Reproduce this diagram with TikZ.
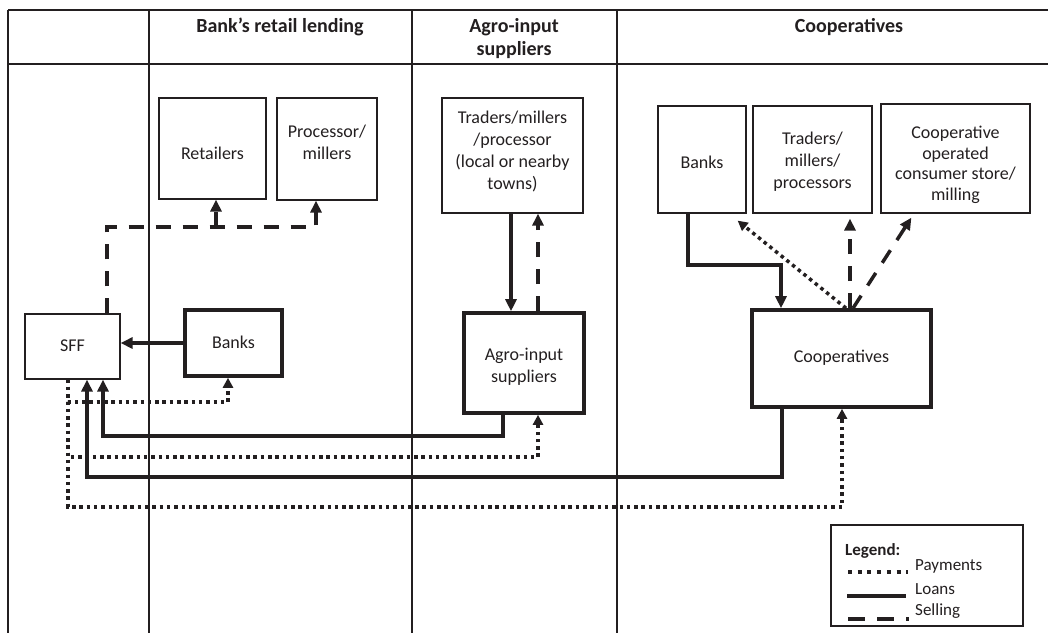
\documentclass[tikz,border=0pt]{standalone}
\usepackage{fontspec}
\setmainfont{Carlito}
\usetikzlibrary{arrows.meta}
\definecolor{ink}{HTML}{231F20}
\begin{document}
\begin{tikzpicture}[x=1pt,y=-1pt,
  grid/.style={draw=ink, line width=1.3pt},
  head/.style={font=\fontsize{20}{23}\selectfont\bfseries, text=ink, align=center, inner sep=0pt},
  txt/.style={font=\fontsize{18}{22}\selectfont, text=ink, align=center, inner sep=0pt},
  thinbox/.style={draw=ink, line width=1.2pt, inner sep=0pt},
  thickbox/.style={draw=ink, line width=3.6pt, inner sep=0pt},
  loan/.style={draw=ink, line width=3.5pt},
  pay/.style={draw=ink, line width=3.5pt, dash pattern=on 3.5pt off 3.8pt},
  sell/.style={draw=ink, line width=3.5pt, dash pattern=on 15pt off 12pt},
  tip/.style={-{Triangle[length=12pt,width=11pt]}},
  smalltip/.style={-{Triangle[length=10pt,width=10pt]}}]

\useasboundingbox (0,0) rectangle (1048,633);

% table grid
\draw[grid] (8,10) -- (1048,10);
\draw[grid] (8,64) -- (1048,64);
\draw[grid] (8,10) -- (8,633);
\draw[grid] (149,10) -- (149,633);
\draw[grid] (412,10) -- (412,633);
\draw[grid] (617,10) -- (617,633);

% column headings
\node[head] (hBank) at (280,27) {Bank’s retail lending};
\node[head] (hAgro) at (514,38.5) {Agro-input\\suppliers};
\node[head] (hCoop) at (849,27) {Cooperatives};

% boxes
\node[thinbox, minimum width=107pt, minimum height=101pt] (Retail) at (212.5,148.5) {};
\node[thinbox, minimum width=100pt, minimum height=102pt] (Proc) at (327,149) {};
\node[thinbox, minimum width=95pt, minimum height=65pt] (SFF) at (72.5,346.5) {};
\node[thickbox, minimum width=97pt, minimum height=66pt] (BanksL) at (233.5,343) {};
\node[thinbox, minimum width=141pt, minimum height=115pt] (TradersA) at (512.5,155.5) {};
\node[thickbox, minimum width=120pt, minimum height=100pt] (Agro) at (524,363) {};
\node[thinbox, minimum width=88pt, minimum height=107pt] (BanksR) at (702,159.5) {};
\node[thinbox, minimum width=119pt, minimum height=107pt] (TradersC) at (812.5,159.5) {};
\node[thinbox, minimum width=149pt, minimum height=109pt] (CoopStore) at (955.5,158.5) {};
\node[thickbox, minimum width=179pt, minimum height=97pt] (Coop) at (841.5,358.5) {};

% box texts
\node[txt] (RetailT) at (212.5,153) {Retailers};
\node[txt] (ProcT) at (327,142) {Processor/\\millers};
\node[txt] (SFFT) at (72.5,346) {SFF};
\node[txt] (BanksLT) at (233.5,342) {Banks};
\node[txt] (TradersAT) at (512.5,151) {Traders/millers\\/processor\\(local or nearby\\towns)};
\node[txt] (AgroT) at (524,367) {Agro-input\\suppliers};
\node[txt] (BanksRT) at (702,162) {Banks};
\node[txt] (TradersCT) at (812.5,162) {Traders/\\millers/\\processors};
\node[txt, font=\fontsize{18}{20.5}\selectfont] (CoopStoreT) at (955.5,165) {Cooperative\\operated\\consumer store/\\milling};
\node[txt] (CoopT) at (841.5,358) {Cooperatives};

% guide coordinates for connector routes
\coordinate (xPay) at (68,0);
\coordinate (xSell) at (107,0);
\coordinate (kSell) at (107,227);
\coordinate (xRet) at (216,0);
\coordinate (xProc) at (316,0);
\coordinate (xDown) at (511,0);
\coordinate (xUp) at (538,0);
\coordinate (xAgL) at (503,0);
\coordinate (xCoL) at (782,0);
\coordinate (xBR) at (688,0);
\coordinate (xC1) at (846,0);
\coordinate (xC2) at (850,0);
\coordinate (xC3) at (853,0);
\coordinate (kP1) at (228,402);
\coordinate (kL1) at (103,436);
\coordinate (kP2) at (538,457);
\coordinate (kL2) at (87,477);
\coordinate (kP3) at (842,507);
\coordinate (kL3) at (781,265);

% bank loans to SFF
\draw[loan,tip] (BanksL.west) -- (BanksL.west -| SFF.east);

% SFF selling to retailers and processors
\draw[sell,tip] (SFF.north -| xSell) -- (kSell) -| (Proc.south -| xProc);
\draw[sell,tip] (kSell -| xRet) -- (Retail.south -| xRet);

% traders and agro-input suppliers
\draw[loan,tip] (TradersA.south -| xDown) -- (Agro.north -| xDown);
\draw[sell,tip] (Agro.north -| xUp) -- (TradersA.south -| xUp);

% payments from SFF
\draw[pay,smalltip] (SFF.south -| xPay) |- (kP1) -- (BanksL.south -| kP1);
\draw[pay,smalltip] (SFF.south -| xPay) |- (kP2) -- (Agro.south -| kP2);
\draw[pay,smalltip] (SFF.south -| xPay) |- (kP3) -- (Coop.south -| kP3);

% loans to SFF
\draw[loan,tip] (Agro.south -| xAgL) |- (kL1) -- (SFF.south -| kL1);
\draw[loan,tip] (Coop.south -| xCoL) |- (kL2) -- (SFF.south -| kL2);

% cooperatives
\draw[loan,tip] (BanksR.south -| xBR) |- (kL3) -- (Coop.north -| kL3);
\draw[pay,smalltip] (Coop.north -| xC1) -- ([xshift=-9pt,yshift=-7pt]BanksR.south east);
\draw[sell,tip,shorten >=5pt] (Coop.north -| xC2) -- (TradersC.south -| xC2);
\draw[sell,tip] (Coop.north -| xC3) -- ([xshift=31pt,yshift=-4pt]CoopStore.south west);

% legend
\node[thinbox, minimum width=192pt, minimum height=101pt] (Leg) at (927,575.5) {};
\node[txt, font=\fontsize{17}{20}\selectfont\bfseries, anchor=west] (LegT) at (845,551) {Legend:};
\node[txt, font=\fontsize{17}{20}\selectfont, anchor=west] (LegPay) at (915,566) {Payments};
\node[txt, font=\fontsize{17}{20}\selectfont, anchor=west] (LegLoan) at (915,589) {Loans};
\node[txt, font=\fontsize{17}{20}\selectfont, anchor=west] (LegSell) at (915,611) {Selling};
\draw[draw=ink, line width=4pt, dash pattern=on 4pt off 5.7pt] (848,572) -- (908,572);
\draw[draw=ink, line width=4pt] (847,596) -- (906,596);
\draw[draw=ink, line width=4pt, dash pattern=on 17pt off 12pt] (848,619) -- (909,619);
\end{tikzpicture}
\end{document}
